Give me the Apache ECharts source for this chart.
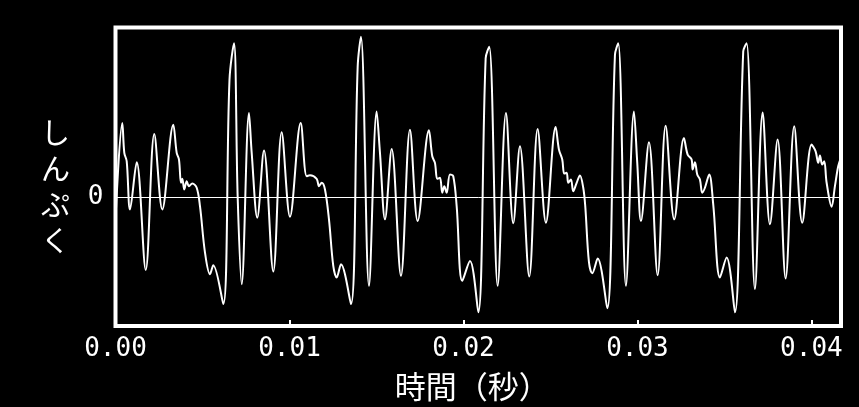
<!DOCTYPE html>
<html>
<head>
<meta charset="utf-8">
<script src="https://cdn.jsdelivr.net/npm/echarts@6/dist/echarts.min.js"></script>
<style>
  html, body { margin: 0; padding: 0; background: #000; }
  #chart { width: 859px; height: 407px; }
</style>
</head>
<body>
<div id="chart"></div>
<script>
// Waveform samples: time in milliseconds and relative amplitude
const timeMs = [
  0.00, 0.391, 0.506, 0.644, 0.833, 1.218, 1.736, 2.230, 2.690, 3.322,
  3.517, 3.649, 3.764, 3.839, 3.954, 4.092, 4.224, 4.414, 4.667, 4.856,
  5.144, 5.431, 5.621, 6.195, 6.552, 6.810,
  7.023, 7.253, 7.672, 7.828, 8.149, 8.534, 9.069, 9.552, 10.029, 10.644,
  10.989, 11.178, 11.563, 11.695, 11.851, 12.040, 12.270, 12.517, 12.713, 12.960,
  13.534, 13.920, 14.109,
  14.569, 15.011, 15.201, 15.489, 15.874, 16.408, 16.925, 17.368, 18.017, 18.207,
  18.362, 18.494, 18.649, 18.782, 18.897, 19.034, 19.224, 19.414, 19.609, 19.931,
  20.374, 20.851, 21.276, 21.483,
  21.966, 22.443, 22.862, 23.247, 23.782, 24.264, 24.741, 25.299, 25.489, 25.678,
  25.793, 25.931, 26.023, 26.178, 26.310, 26.506, 26.695, 26.885, 27.000, 27.213,
  27.402, 27.713, 28.264, 28.707, 28.897,
  29.339, 29.799, 29.989, 30.201, 30.661, 31.161, 31.621, 32.115, 32.672, 32.885,
  33.115, 33.172, 33.305, 33.437, 33.592, 33.724, 33.879, 34.126, 34.356, 34.741,
  35.126, 35.603, 36.080, 36.276,
  36.753, 37.195, 37.615, 38.057, 38.517, 39.011, 39.471, 40.011, 40.241, 40.391,
  40.489, 40.621, 40.736, 40.874, 41.161, 41.351, 41.540, 41.700
];
const amplitude = [
  -0.22, 0.747, 0.447, 0.363, -0.12, 0.353, -0.727, 0.637, -0.12, 0.73,
  0.447, 0.38, 0.147, 0.187, 0.08, 0.163, 0.113, 0.14, 0.097, -0.087,
  -0.553, -0.77, -0.68, -1.07, 1.18, 1.547,
  0, -0.87, 0.847, 0.447, -0.203, 0.47, -0.743, 0.653, -0.193, 0.747,
  0.213, 0.223, 0.187, 0.113, 0.147, 0.08, -0.22, -0.687, -0.803, -0.67,
  -1.07, 1.313, 1.613,
  -0.887, 0.863, 0.447, -0.22, 0.487, -0.787, 0.68, -0.237, 0.673, 0.413,
  0.347, 0.187, 0.197, 0.047, 0.113, 0.047, 0.23, 0.213, -0.087, -0.837,
  -0.637, -1.153, 1.397, 1.513,
  -0.887, 0.847, -0.26, 0.513, -0.793, 0.687, -0.253, 0.707, 0.48, 0.38,
  0.24, 0.247, 0.147, 0.18, 0.063, 0.147, 0.22, 0.097, -0.087, -0.65,
  -0.76, -0.613, -1.113, 1.43, 1.547,
  -0.887, 0.863, 0.347, -0.237, 0.553, -0.78, 0.72, -0.22, 0.597, 0.43,
  0.38, 0.28, 0.353, 0.23, 0.18, 0.047, 0.097, 0.23, -0.07, -0.803,
  -0.603, -1.153, 1.463, 1.547,
  -0.92, 0.853, -0.27, 0.58, -0.813, 0.713, -0.253, 0.53, 0.463, 0.347,
  0.42, 0.33, 0.363, 0.147, -0.093, 0.113, 0.313, 0.40
];
const xTicks = [0, 0.01, 0.02, 0.03, 0.04];
const yTicks = [0];
const xTitle = '時間（秒）';
const yTitle = 'しんぷく';

const points = timeMs.map((t, i) => [t / 1000, amplitude[i]]);

const numFont = '"DejaVu Sans Mono", "Liberation Mono", monospace';
const jpFont = '"Noto Sans CJK JP", sans-serif';

const chart = echarts.init(document.getElementById('chart'), null, { renderer: 'canvas' });
chart.setOption({
  backgroundColor: '#000',
  animation: false,
  grid: {
    left: 115.5, right: 18, top: 27.5, bottom: 80,
    show: true,
    borderColor: '#fff',
    borderWidth: 4,
    backgroundColor: 'transparent'
  },
  // vertical y-axis title, one upright kana per line
  graphic: [{
    type: 'text',
    left: 41,
    top: 115,
    silent: true,
    style: {
      text: yTitle.split('').join('\n'),
      fill: '#fff',
      font: '29px ' + jpFont,
      lineHeight: 36,
      align: 'center'
    }
  }],
  xAxis: {
    type: 'value',
    min: 0,
    max: 0.0417,
    interval: 0.01,
    name: xTitle,
    nameLocation: 'middle',
    nameGap: 45,
    nameTextStyle: {
      color: '#fff', fontFamily: jpFont, fontSize: 31,
      padding: [0, 12, 0, 0]
    },
    axisLine: { show: false, onZero: false },
    axisTick: {
      show: true, inside: true, length: 6,
      customValues: xTicks,
      lineStyle: { color: '#fff', width: 2 }
    },
    axisLabel: {
      color: '#fff', fontFamily: numFont, fontSize: 26, margin: 10,
      customValues: xTicks,
      formatter: v => v.toFixed(2)
    },
    splitLine: { show: false }
  },
  yAxis: {
    type: 'value',
    min: -1.29,
    max: 1.705,
    axisLine: { show: false, onZero: false },
    axisTick: { show: false },
    axisLabel: {
      color: '#fff', fontFamily: numFont, fontSize: 26, margin: 12,
      customValues: yTicks
    },
    splitLine: { show: false }
  },
  series: [{
    type: 'line',
    data: points,
    showSymbol: false,
    smooth: 0.35,
    lineStyle: { color: '#fff', width: 2 },
    clip: true,
    markLine: {
      silent: true,
      symbol: ['none', 'none'],
      label: { show: false },
      lineStyle: { color: '#fff', width: 1, type: 'solid' },
      data: [{ yAxis: 0 }]
    }
  }]
});
</script>
</body>
</html>
